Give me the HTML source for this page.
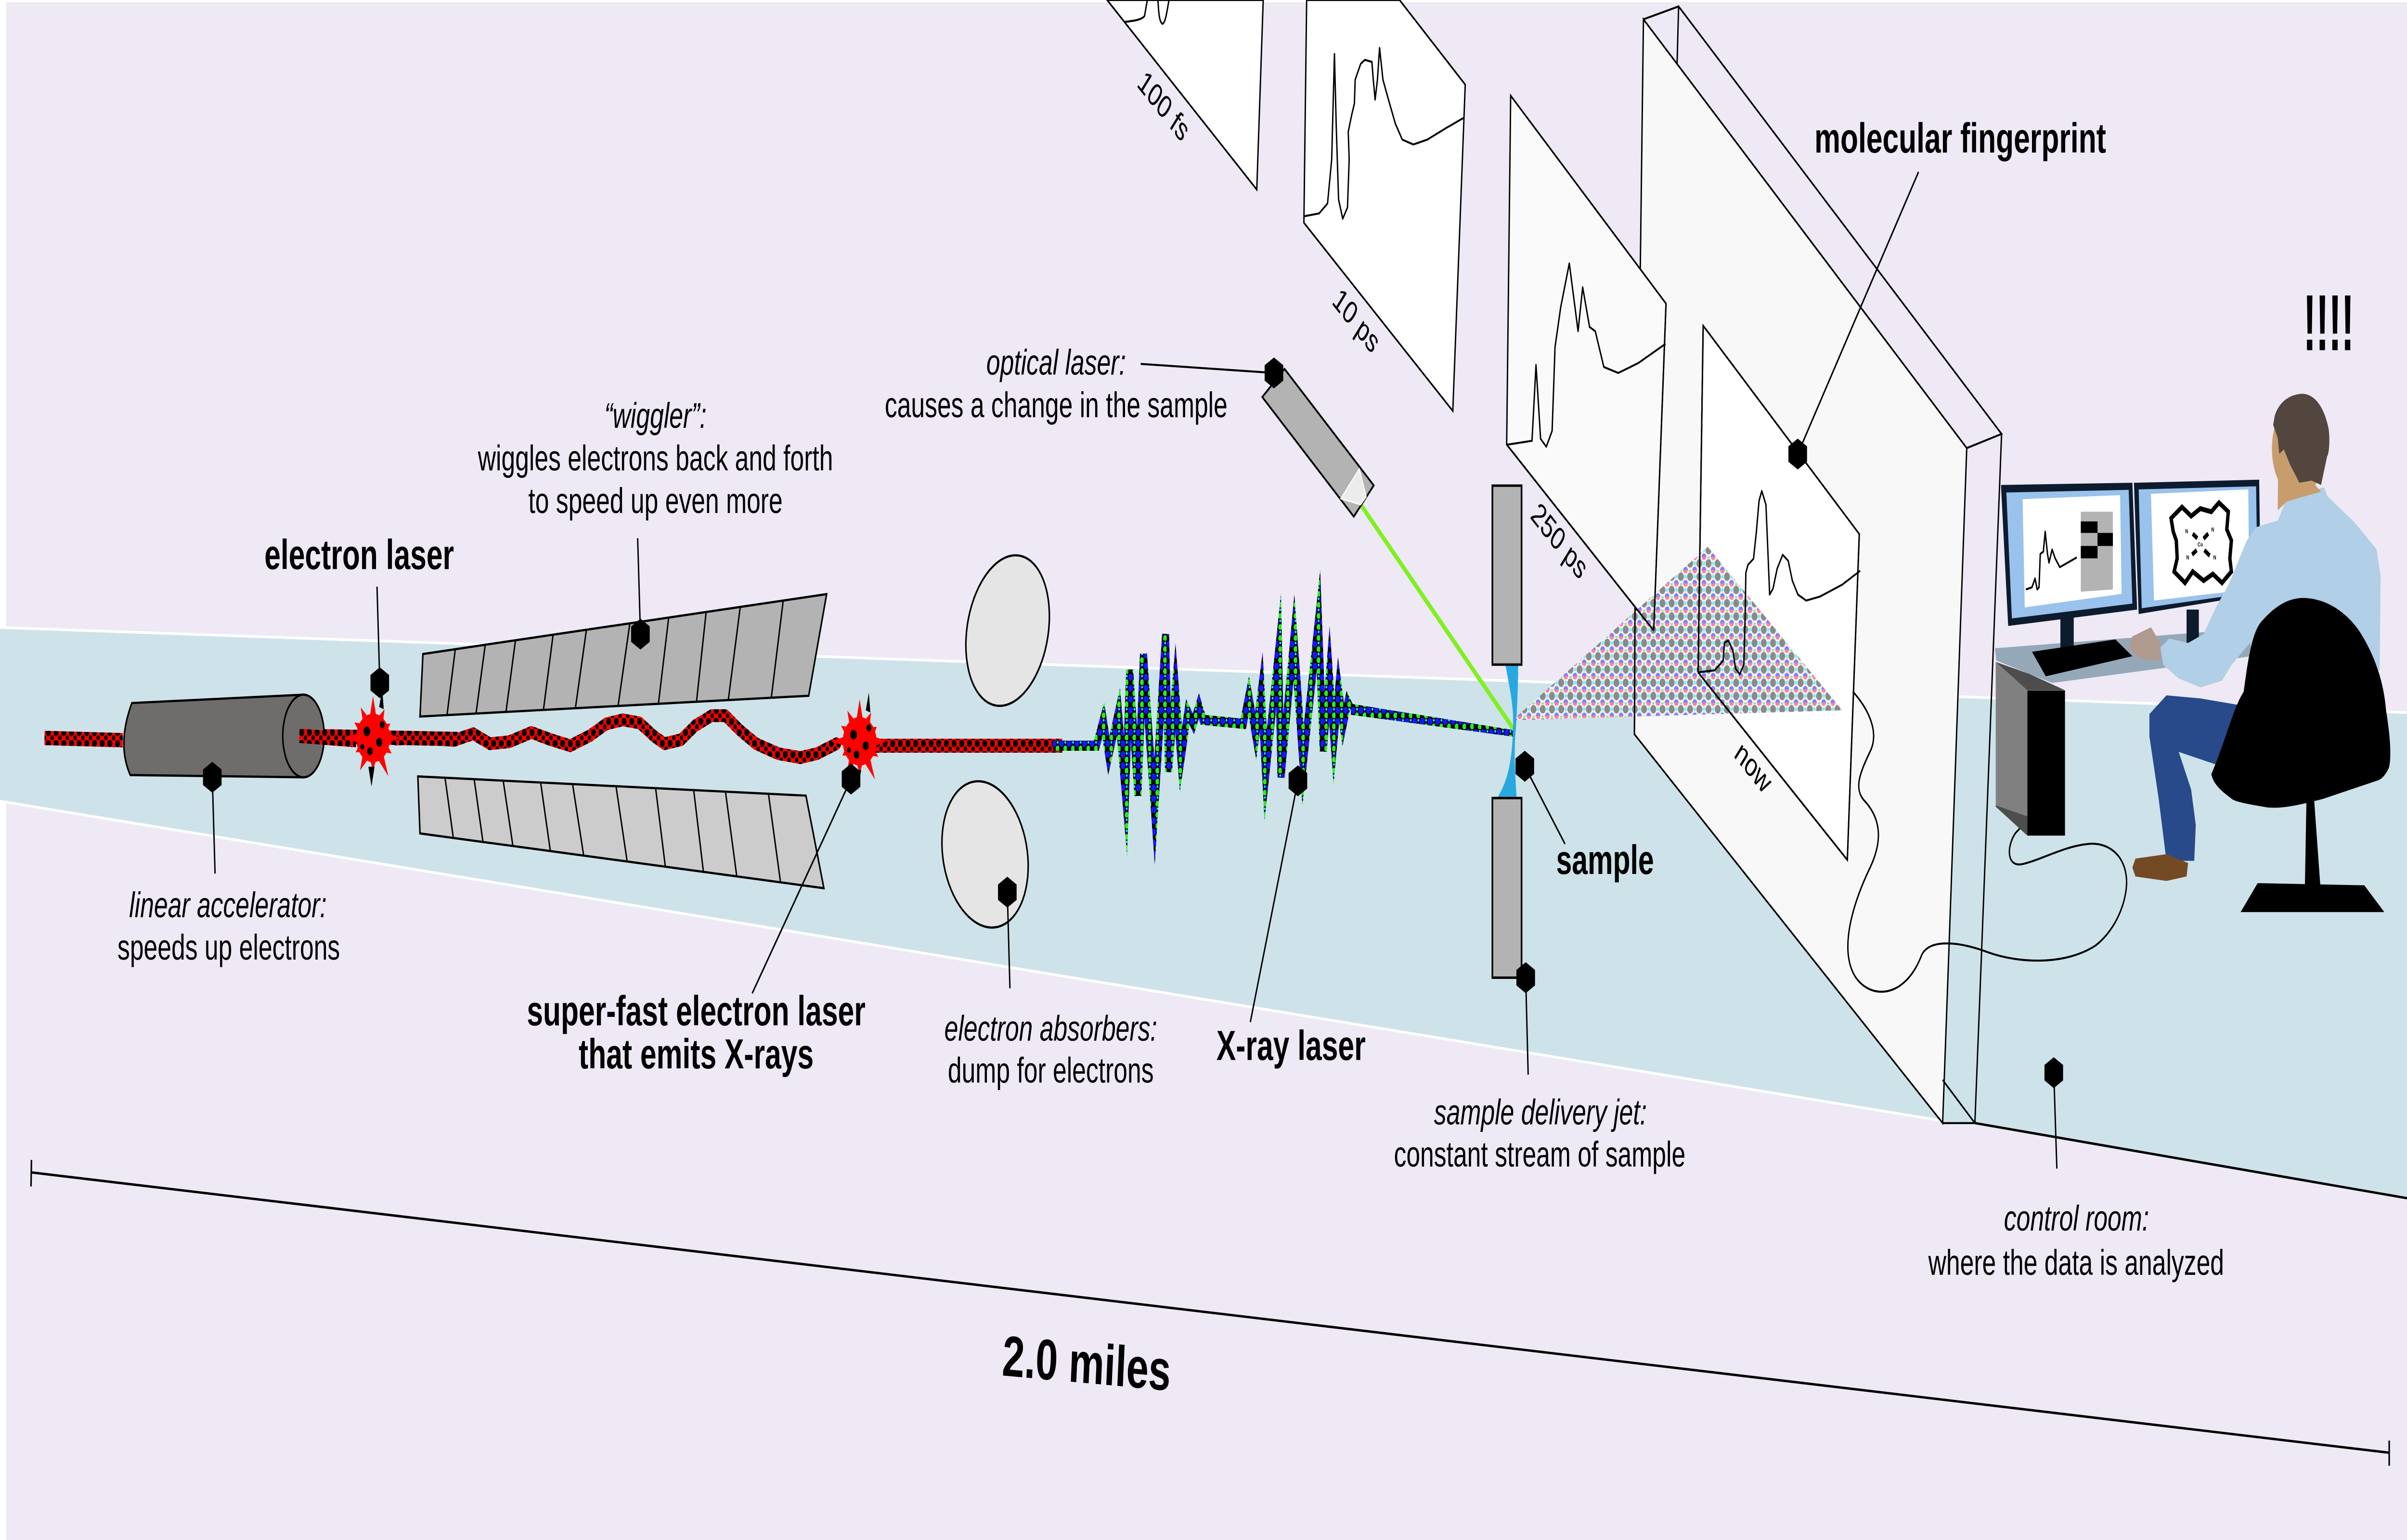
<!DOCTYPE html>
<html><head><meta charset="utf-8"><style>
html,body{margin:0;padding:0;width:100%;height:100%;overflow:hidden;background:#eee9f5}
svg{display:block;width:100vw;height:100vh}
</style></head><body>
<svg xmlns="http://www.w3.org/2000/svg" viewBox="0 0 1568 697" preserveAspectRatio="none" font-family="'Liberation Sans', Arial, sans-serif">
<defs>
<pattern id="rb" width="5" height="5" patternUnits="userSpaceOnUse"><rect width="5" height="5" fill="#f00"/><circle cx="1.5" cy="1.5" r="1.7" fill="#000"/><circle cx="4" cy="4" r="1.2" fill="#000"/></pattern>
<pattern id="xr" width="5" height="5" patternUnits="userSpaceOnUse"><rect width="5" height="5" fill="#000"/><circle cx="1.5" cy="1.5" r="1.6" fill="#1515ff"/><circle cx="4" cy="3.8" r="1.35" fill="#22ee22"/><circle cx="4" cy="1" r="0.6" fill="#0ff"/></pattern>
<pattern id="ht" width="6" height="6" patternUnits="userSpaceOnUse"><rect width="6" height="6" fill="#f3eff6"/><circle cx="3" cy="3" r="1.9" fill="#8a8a8a"/><circle cx="0" cy="0" r="1.5" fill="#ff82a2"/><circle cx="6" cy="0" r="1.5" fill="#ff82a2"/><circle cx="0" cy="6" r="1.5" fill="#8080ff"/><circle cx="6" cy="6" r="1.5" fill="#8080ff"/><circle cx="3" cy="0" r="0.9" fill="#80f080"/><circle cx="0" cy="3" r="0.9" fill="#80f0f0"/><circle cx="6" cy="3" r="0.9" fill="#80f0f0"/></pattern>
<polygon id="hx" points="0,-7 6.06,-3.5 6.06,3.5 0,7 -6.06,3.5 -6.06,-3.5" fill="#000"/>
<g id="star">
<circle r="11" fill="#f00"/>
<polygon fill="#f00" points="18,0 8.69,2.33 12.12,7 6.36,6.36 10,17.32 2.33,8.69 0,15 -2.33,8.69 -8.5,14.72 -6.36,6.36 -11.26,6.5 -8.69,2.33 -19,0 -8.69,-2.33 -12.12,-7 -6.36,-6.36 -8,-13.86 -2.33,-8.69 0,-19 2.33,-8.69 7.5,-12.99 6.36,-6.36 11.26,-6.5 8.69,-2.33"/>
<circle cx="-4" cy="-3" r="2.2" fill="#000"/><circle cx="4" cy="2" r="2" fill="#000"/><circle cx="-2" cy="6" r="1.8" fill="#000"/><circle cx="6" cy="-6" r="1.6" fill="#000"/><circle cx="-7" cy="4" r="1.3" fill="#000"/>
<polygon fill="#000" points="4,-14 6,-22 7,-13"/><polygon fill="#000" points="-3,13 -1,22 1,13"/>
</g>
</defs>

<!-- background -->
<rect x="0" y="0" width="1568" height="697" fill="#eee9f5"/>
<rect x="0" y="0" width="4" height="697" fill="#ffffff"/>
<rect x="0" y="0" width="1568" height="1" fill="#ffffff"/>

<!-- floor -->
<polygon points="0,284 1568,322.5 1568,542.3 1286.5,508.3 1265.5,507.3 0,362.6" fill="#cde3e9"/>
<line x1="0" y1="284" x2="1568" y2="322.5" stroke="#fff" stroke-width="1.2"/>
<line x1="0" y1="362.6" x2="1265.5" y2="507.3" stroke="#fff" stroke-width="1.2"/>
<line x1="1286.5" y1="508.3" x2="1568" y2="542.3" stroke="#000" stroke-width="1.1"/>

<!-- scale bar -->
<line x1="20" y1="530.6" x2="1556.4" y2="657.5" stroke="#000" stroke-width="1.1"/>
<line x1="20.5" y1="525" x2="20.2" y2="537" stroke="#000" stroke-width="1"/>
<line x1="1556.4" y1="652" x2="1556.4" y2="663.4" stroke="#000" stroke-width="1"/>
<text x="652.5" y="622.5" font-size="26" font-weight="bold" transform="rotate(3.6 652.5 622.5)">2.0 miles</text>

<!-- panels top -->
<polygon points="721.2,0 822.9,0 818.7,85.8" fill="#fff" stroke="#000" stroke-width="0.9"/>
<path d="M732.6,9.9 C738,9.5 744,9 745.6,7.2 L747.4,0 M754.3,0 C754.8,5 755,9.9 757.3,10.8 C759,10.5 760,6.3 761.5,0" fill="none" stroke="#000" stroke-width="0.9"/>
<polygon points="851.2,0 911.7,0 954.5,38.3 946.4,186 849.4,100.8" fill="#fff" stroke="#000" stroke-width="0.9"/>
<polyline fill="none" stroke="#000" stroke-width="0.9" stroke-linejoin="round" points="849.4,97.9 859.3,96.6 864.8,92.1 867.5,72.2 869.3,24.4 870.5,57.8 872,90.3 874.7,99 877.8,93.9 878.9,72.2 878.3,59.6 880.7,51.5 882.3,46.9 882.8,36.1 886.4,28.9 889.1,27.1 893.7,28 894.6,36.1 895.8,45.1 897.3,36.1 898.7,21.7 900.9,36.1 904.5,45.1 909,56 913.5,63.2 920.7,65.4 929.8,63.2 942.4,57.8 953.6,53.3"/>
<text transform="translate(758.2,47.9) rotate(41.3)" x="0" y="5" font-size="14.5" text-anchor="middle">100 fs</text>
<text transform="translate(883.7,145) rotate(41.3)" x="0" y="5" font-size="14.5" text-anchor="middle">10 ps</text>

<!-- big wall -->
<polygon points="1070.6,8.75 1281.2,202.8 1269.3,435.5 1265.5,508.3 1064.7,332.3" fill="#f8f8f8" stroke="#000" stroke-width="0.9"/>
<polyline points="1070.6,8.75 1093.5,2.9 1303.9,196.4 1281.2,202.8" fill="none" stroke="#000" stroke-width="0.9"/>
<line x1="1093.5" y1="2.9" x2="1092.5" y2="29" stroke="#000" stroke-width="0.9"/>
<polyline points="1303.9,196.4 1290.6,435.5 1286.5,508.3 1265.5,508.3" fill="none" stroke="#000" stroke-width="0.9"/>
<line x1="1265.5" y1="488.8" x2="1286.5" y2="508.3" stroke="#000" stroke-width="0.9"/>

<!-- 250 ps panel -->
<polygon points="984.1,43.3 1085.3,137.4 1077.3,285.4 981.5,201.2" fill="#fafafa" stroke="#000" stroke-width="0.9"/>
<polyline fill="none" stroke="#000" stroke-width="0.9" stroke-linejoin="round" points="981.5,201.3 998,199.5 1000.6,165.2 1003.6,198.6 1007.3,202.2 1011.1,195 1013,157.1 1016.7,139 1022.3,119.2 1028,149.9 1031,130 1035.5,148 1039.2,149.9 1044.8,166.1 1054.2,168.8 1067.3,164.3 1085,155.6"/>
<text transform="translate(1016,244.7) rotate(41.3)" x="0" y="5" font-size="14.5" text-anchor="middle">250 ps</text>

<!-- now panel -->
<polygon points="1109.5,147.4 1211.2,241.7 1203.4,389.2 1106.2,304.3" fill="#fff" stroke="#000" stroke-width="0.9"/>
<text transform="translate(1142.3,347.2) rotate(41.3)" x="0" y="5" font-size="14.5" text-anchor="middle">now</text>

<!-- diffraction triangle -->
<polygon points="985.2,326 1112.5,247.5 1200.1,321.5" fill="url(#ht)"/>

<!-- redrawn lines over triangle -->
<g fill="none" stroke="#000" stroke-width="0.9">
<line x1="1065.1" y1="274.7" x2="1064.7" y2="332.3"/>
<line x1="981.5" y1="201.2" x2="1077.3" y2="285.4"/>
<line x1="1085.3" y1="137.4" x2="1077.3" y2="285.4"/>
<line x1="1109.5" y1="147.4" x2="1106.2" y2="304.3"/>
<line x1="1106.2" y1="304.3" x2="1203.4" y2="389.2"/>
<line x1="1211.2" y1="241.7" x2="1203.4" y2="389.2"/>
<polyline stroke-linejoin="round" points="1106.2,304.3 1117,303.4 1122.5,299 1123.4,290.8 1126,289.9 1128.8,294.4 1130.6,302.5 1133.3,305.2 1136,300.7 1136.9,277.3 1137.3,259.2 1138.7,255.6 1142.3,252.9 1144.1,241.1 1145.9,226.7 1147.7,222.2 1150.4,228.5 1151.7,250.2 1152.8,269.1 1155,266.4 1157.7,257.4 1161.3,251.1 1164.9,253.8 1167.6,262.8 1171.2,269.1 1176.6,271.8 1185.6,270 1200.1,264.6 1211.8,258.3"/>
</g>

<!-- cable -->
<path d="M1207,313 C1216,320 1224,330 1219,339 C1213,348 1207,356 1214,362 C1225,370 1227,380 1218,393 C1207,409 1199,428 1207,440 C1215,452 1240,454 1252,432 C1258,424 1280,427 1295,431 C1315,436 1345,437 1365,428 C1380,420 1387,405 1385,396 C1383,386 1372,381 1360,382 C1345,383 1330,389 1318,391 C1307,393 1307,383 1313,377 L1321,371" fill="none" stroke="#000" stroke-width="0.9"/>

<!-- wiggler magnets -->
<polygon points="275.5,296 538.5,268.9 526.8,314.9 273.6,324.3" fill="#b3b3b3" stroke="#000" stroke-width="1"/>
<g stroke="#000" stroke-width="0.9">
<line x1="296.6" y1="293.8" x2="291.2" y2="323.7"/><line x1="316.1" y1="291.8" x2="310.1" y2="323"/><line x1="335.8" y1="289.8" x2="329.6" y2="322.3"/><line x1="360.3" y1="287.3" x2="354" y2="321.4"/><line x1="382" y1="285.1" x2="374.8" y2="320.7"/><line x1="410.3" y1="282.1" x2="402.6" y2="319.7"/><line x1="435.6" y1="279.5" x2="428.9" y2="318.7"/><line x1="460" y1="277" x2="453.7" y2="317.8"/><line x1="482.2" y1="274.8" x2="474.4" y2="317.1"/><line x1="510.2" y1="271.9" x2="502.4" y2="316.1"/>
</g>
<polygon points="272.2,351.4 525,360.1 536.7,402 273.6,377.2" fill="#cccccc" stroke="#000" stroke-width="1"/>
<g stroke="#000" stroke-width="0.9">
<line x1="289.9" y1="352" x2="295.3" y2="379.2"/><line x1="308.9" y1="352.7" x2="314.6" y2="381"/><line x1="327.8" y1="353.3" x2="334.1" y2="382.8"/><line x1="352.2" y1="354.2" x2="358.5" y2="385.1"/><line x1="373" y1="354.9" x2="380.2" y2="387.1"/><line x1="401.3" y1="355.9" x2="408.5" y2="389.7"/><line x1="427.1" y1="356.8" x2="433.4" y2="392.1"/><line x1="451.9" y1="357.6" x2="458.2" y2="394.4"/><line x1="472.6" y1="358.3" x2="479.9" y2="396.4"/><line x1="500.6" y1="359.3" x2="508.4" y2="399"/>
</g>

<!-- absorbers -->
<ellipse cx="656.4" cy="285.4" rx="26" ry="35" transform="rotate(20 656.4 285.4)" fill="#e5e5e5" stroke="#000" stroke-width="1"/>
<ellipse cx="641.7" cy="386.7" rx="27" ry="34" transform="rotate(-22 641.7 386.7)" fill="#e5e5e5" stroke="#000" stroke-width="1"/>

<!-- electron beam -->
<line x1="29" y1="334" x2="80" y2="335" stroke="url(#rb)" stroke-width="6.5"/>
<line x1="195" y1="333" x2="298" y2="334.5" stroke="url(#rb)" stroke-width="6.5"/>
<polyline fill="none" stroke="url(#rb)" stroke-width="5.8" stroke-linejoin="round" stroke-linecap="round" points="258,334.5 272.2,333.9 295.7,335.1 308.3,332.1 319.1,336.6 331.8,335.7 346.2,331.5 358.9,334.8 371.5,337.5 384.2,333 395,327.6 405.8,325.8 416.7,327.2 425.7,333 432.9,336.6 443.7,334.8 452.8,328.5 463.6,323.9 472.6,323.9 481.7,330.3 492.5,336.6 507,341.1 521.4,342.9 532.2,341.1 545,336.6"/>

<!-- linear accelerator cylinder -->
<path d="M85.9,318.2 L197.7,314.4 L197.7,351.8 L84.9,350.8 Q76,337 85.9,318.2 Z" fill="#6e6d6b" stroke="#000" stroke-width="1"/>
<ellipse cx="197.7" cy="333.1" rx="13.5" ry="18.7" fill="#6e6d6b" stroke="#000" stroke-width="1"/>
<line x1="195" y1="333" x2="232" y2="335" stroke="url(#rb)" stroke-width="6.5"/>

<line x1="560" y1="337.5" x2="692" y2="337.5" stroke="url(#rb)" stroke-width="6.3"/>

<!-- X-ray beam -->
<path d="M686,337.5 L714.2,337.5 L718.7,325.8 L722.3,342 L728.6,322.2 L733.2,360.1 L735.9,303.2 L741.3,360.1 L744.9,296 L752.1,367.3 L759.3,287 L761.2,349.3 L765.7,311.3 L769.3,343.8 L773.8,322.2 L777.4,327.6 L781,319.5 L783.7,325.8 L809.9,327.6 L813.5,315 L818,333 L821.6,313.1 L824.5,351.1 L832.9,294.6 L834.5,351.8 L842.9,288.4 L848.9,346.5 L858.9,280.5 L862,340 L866,305 L869,335 L872,312 L875,328 L878,318 L880,321" fill="none" stroke="url(#xr)" stroke-width="4.6" stroke-linejoin="miter" stroke-miterlimit="12"/>
<polygon points="880,318.5 986.5,330.5 986.5,333.5 880,323.5" fill="url(#xr)"/>

<!-- starbursts -->
<use href="#star" transform="translate(243,334)"/>
<use href="#star" transform="translate(560,335.5)"/>

<!-- optical laser -->
<line x1="886.4" y1="228.4" x2="986" y2="330" stroke="#80f020" stroke-width="2.3"/>
<polygon points="822.3,179.7 836.8,167 894.9,219.7 881.9,233.8" fill="#b3b3b3" stroke="#000" stroke-width="1"/>
<polygon points="873.4,225.7 885.5,212.2 890,224.8 886.4,228.4" fill="#ececec" stroke="#fff" stroke-width="0.6"/>

<!-- sample jet -->
<path d="M980.7,301 C983,310 986.5,320 985.6,330 C985,345 982,354 975,361.5 L988,361.5 C987,350 986,340 987.5,330 C988.5,318 989,308 989,301 Z" fill="#29a8e0"/>
<rect x="972.2" y="219.8" width="19" height="81" fill="#b3b3b3" stroke="#000" stroke-width="1.1"/>
<rect x="972.2" y="361.2" width="19" height="81.3" fill="#b3b3b3" stroke="#000" stroke-width="1.1"/>

<!-- control room: desk, PC -->
<polygon points="1299.5,293.4 1465.6,284.5 1466.7,297 1336.8,309.1 1300.5,299" fill="#94a8b8"/>
<polygon points="1300.1,299.6 1320.7,312.4 1320.7,378.2 1300.1,365.1" fill="#808080"/>
<polygon points="1300.1,299.6 1320.7,312.4 1345.2,312.4 1322,305" fill="#4d4d4d"/>
<polygon points="1300.1,364.5 1320.7,369.5 1320.7,378.2 1300.1,365.1" fill="#4d4d4d"/>
<rect x="1320.7" y="312.5" width="24.5" height="65.7" fill="#000"/>

<!-- left monitor -->
<polygon points="1303.5,219.5 1389.1,218.5 1392.2,275.9 1308.2,283.3" fill="#0d1b2e"/>
<polygon points="1307,222.9 1386.7,221.7 1389.1,273.2 1310.6,279.9" fill="#99c2ec"/>
<polygon points="1317.6,225.9 1381.1,224.1 1382.1,268.8 1319,274.9" fill="#fff"/>
<polygon points="1355.5,231.6 1376.4,231.6 1376.4,266.8 1355.5,267.8" fill="#b3b3b3"/>
<rect x="1355.5" y="236" width="10.9" height="5.2" fill="#000"/>
<rect x="1366.4" y="241.2" width="10" height="5.9" fill="#000"/>
<rect x="1355.5" y="247.1" width="10.9" height="5.6" fill="#000"/>
<polyline fill="none" stroke="#000" stroke-width="0.9" stroke-linejoin="round" points="1319.7,266.8 1323.7,265.8 1325.7,261.8 1327.1,266.8 1328.3,265.8 1329.1,250.7 1331.1,249.7 1332.3,240.6 1333.8,250.7 1334.8,254.7 1336.8,248.7 1338.8,252.7 1341.8,256.7 1352.9,252.3"/>
<polygon points="1342.2,279.5 1350.9,279 1350.9,297 1342.2,297" fill="#0d1b2e"/>
<polygon points="1323.7,295 1378,289.4 1389.1,297 1332.7,306.1" fill="#000"/>

<!-- right monitor -->
<polygon points="1390.1,218.5 1471.7,217.1 1472.7,268.8 1393.2,277.9" fill="#0d1b2e"/>
<polygon points="1393.2,221.5 1469.7,220.1 1470.7,267.8 1395.2,275.3" fill="#99c2ec"/>
<polygon points="1401.2,223.5 1464.6,221.5 1465.2,266.8 1403.2,271.8" fill="#fff"/>
<polygon points="1414.3,234.6 1421.4,229.5 1427.4,233.6 1433.4,230.2 1440.5,231.6 1445.5,227.5 1451.6,231.6 1450.6,239.6 1453.6,244.6 1452.6,252.7 1453.6,258.7 1447.5,263.8 1441.5,259.8 1435.5,262.8 1428.4,258.7 1423.4,263.8 1416.3,258.7 1418.3,252.7 1417.7,244.6 1415.7,240.6" fill="none" stroke="#000" stroke-width="2.2" stroke-linejoin="miter"/>
<g stroke="#000" stroke-width="2">
<line x1="1428.4" y1="241.6" x2="1431.4" y2="243.6"/><line x1="1438.5" y1="241.5" x2="1435.5" y2="243.8"/><line x1="1431" y1="249" x2="1428" y2="251"/><line x1="1436" y1="249" x2="1439.5" y2="251.5"/>
</g>
<g font-size="2.6" font-weight="bold" fill="#000">
<text x="1423.5" y="241.3">N</text><text x="1440.5" y="240.6">N</text><text x="1431.6" y="247.3">Co</text><text x="1441.8" y="253.2">N</text><text x="1424.2" y="253.2">N</text>
</g>
<polygon points="1424.4,275.9 1432.4,275.9 1432.4,291 1424.4,291" fill="#0d1b2e"/>

<!-- person -->
<polygon points="1489.8,225.5 1514,220.5 1516,224.5 1534.1,236.6 1548.2,248.7 1550.8,260.8 1550.2,303.1 1520,310 1480,315 1465.7,291 1453.6,301 1447.5,308.1 1433.4,311.1 1419.3,307.1 1409.3,301 1407.3,293 1413.3,289 1425.4,291 1435.5,287 1443.5,274.9 1451.6,264.8 1463.6,244.7 1469.7,238.6 1483.8,235.6" fill="#b1cfe6"/>
<ellipse cx="1497" cy="203" rx="17" ry="22" fill="#c89d6e"/>
<polygon points="1484,215 1505,217 1512,222.5 1489.8,227 1483.8,231" fill="#c89d6e"/>
<path d="M1481.8,188.3 C1484,183 1490,178.5 1499.9,178.2 C1508,178.5 1514,184 1517,194.3 C1518,200 1517,206 1516,206.4 L1512,219.5 L1505.9,217.5 L1497.9,218.5 L1491.9,210.4 L1487.8,203.4 L1484.8,205.4 L1483.8,198.3 L1480.8,192.3 Z" fill="#52463f"/>
<polygon points="1389.1,288 1401.2,283.9 1407.3,291 1407.3,299 1393.2,298 1387.1,293" fill="#b09a8e"/>
<polygon points="1459.6,319.2 1458.6,347.3 1453.6,348.4 1419.3,340.3 1427.4,357.4 1430.4,373.5 1429.4,389.6 1411.3,389.6 1406.2,361.4 1400.2,333.3 1400.2,323.2 1411.3,314.7 1433.4,316.1" fill="#284a8a"/>
<polygon points="1391.1,388.6 1411.3,386.6 1425.4,390.6 1424.4,396.7 1411.3,398.7 1391.1,396.7 1389.1,392.7" fill="#744a24"/>
<!-- chair -->
<path d="M1440.5,350.4 C1450,335 1455,320 1461.6,313.1 C1465,295 1468,285 1473.7,280.9 C1485,272 1495,270 1504,270.8 C1520,272 1532,280 1538.1,286.9 C1548,298 1553,310 1554.3,321.2 C1557,333 1558,342 1556.3,347.3 C1554,351 1551,353 1548.2,353.4 L1514,361.4 C1500,364 1488,366 1477.7,365.5 C1465,364 1456,363 1453.6,361.4 C1447,358 1442,355 1440.5,350.4 Z" fill="#000"/>
<polygon points="1502.5,362 1507.5,362 1511.5,400.5 1501.5,400.5" fill="#000"/>
<polygon points="1470.7,399.7 1540.2,400.7 1553.2,412.8 1459.6,412.8" fill="#000"/>

<!-- leader lines -->
<g stroke="#000" stroke-width="0.9">
<line x1="138.3" y1="351.8" x2="140.1" y2="395.4"/>
<line x1="247.4" y1="309" x2="245.6" y2="265.5"/>
<line x1="417.2" y1="287" x2="415.4" y2="243.6"/>
<line x1="554.4" y1="352.6" x2="490" y2="449.6"/>
<line x1="656.2" y1="403.8" x2="657.9" y2="447.3"/>
<line x1="845.5" y1="353.4" x2="814.5" y2="462.6"/>
<line x1="829.9" y1="168.8" x2="743.1" y2="164.7"/>
<line x1="993.3" y1="346.8" x2="1019.5" y2="382"/>
<line x1="993.9" y1="442.5" x2="995.5" y2="486.4"/>
<line x1="1171.1" y1="205.5" x2="1249.8" y2="77.8"/>
<line x1="1337.9" y1="485.5" x2="1339.9" y2="528.9"/>
</g>
<use href="#hx" transform="translate(138.3,351.8)"/>
<use href="#hx" transform="translate(247.4,309)"/>
<use href="#hx" transform="translate(417.2,287)"/>
<use href="#hx" transform="translate(554.4,352.6)"/>
<use href="#hx" transform="translate(656.2,403.8)"/>
<use href="#hx" transform="translate(845.5,353.4)"/>
<use href="#hx" transform="translate(829.9,168.8)"/>
<use href="#hx" transform="translate(993.3,346.8)"/>
<use href="#hx" transform="translate(993.9,442.5)"/>
<use href="#hx" transform="translate(1171.1,205.5)"/>
<use href="#hx" transform="translate(1337.9,485.5)"/>

<!-- labels -->
<g fill="#000">
<text x="234" y="257.6" font-size="19" font-weight="bold" text-anchor="middle">electron laser</text>
<text x="427" y="193.6" font-size="16.2" font-style="italic" text-anchor="middle">“wiggler”:</text>
<text x="427" y="212.9" font-size="16.2" text-anchor="middle">wiggles electrons back and forth</text>
<text x="427" y="232.2" font-size="16.2" text-anchor="middle">to speed up even more</text>
<text x="688" y="169.6" font-size="16.2" font-style="italic" text-anchor="middle">optical laser:</text>
<text x="688" y="188.9" font-size="16.2" text-anchor="middle">causes a change in the sample</text>
<text x="1182" y="69" font-size="19" font-weight="bold">molecular fingerprint</text>
<text x="1517" y="158.5" font-size="36" font-weight="bold" text-anchor="middle" textLength="33" lengthAdjust="spacingAndGlyphs">!!!!</text>
<text x="148.5" y="415.2" font-size="16.2" font-style="italic" text-anchor="middle">linear accelerator:</text>
<text x="149" y="434.3" font-size="16.2" text-anchor="middle">speeds up electrons</text>
<text x="453.5" y="464" font-size="19" font-weight="bold" text-anchor="middle">super-fast electron laser</text>
<text x="453.5" y="483.5" font-size="19" font-weight="bold" text-anchor="middle">that emits X-rays</text>
<text x="684.5" y="471" font-size="16.2" font-style="italic" text-anchor="middle">electron absorbers:</text>
<text x="684.5" y="490" font-size="16.2" text-anchor="middle">dump for electrons</text>
<text x="841" y="479.7" font-size="19" font-weight="bold" text-anchor="middle">X-ray laser</text>
<text x="1013.7" y="395.5" font-size="18.5" font-weight="bold">sample</text>
<text x="1003.5" y="508.9" font-size="16.2" font-style="italic" text-anchor="middle">sample delivery jet:</text>
<text x="1003" y="528" font-size="16.2" text-anchor="middle">constant stream of sample</text>
<text x="1352.7" y="557" font-size="16.2" font-style="italic" text-anchor="middle">control room:</text>
<text x="1352.5" y="577" font-size="16.2" text-anchor="middle">where the data is analyzed</text>
</g>
</svg>
</body></html>
